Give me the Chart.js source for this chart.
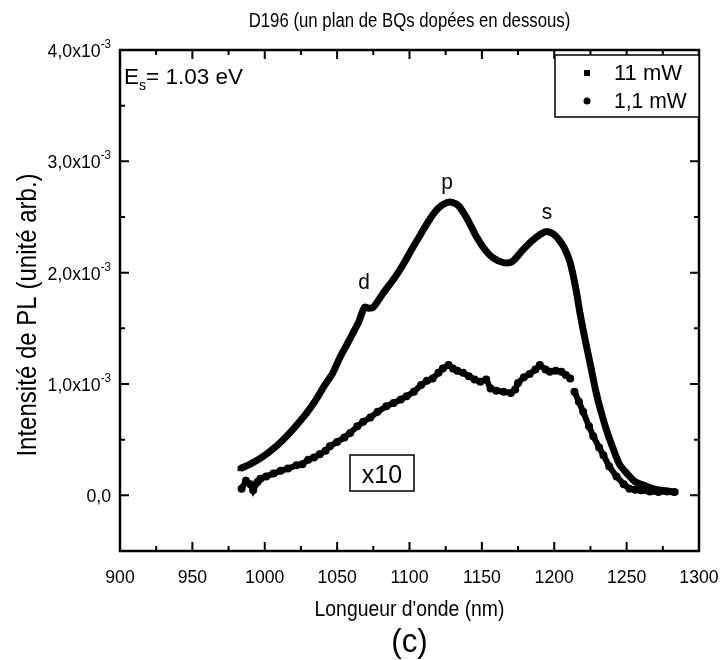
<!DOCTYPE html>
<html>
<head>
<meta charset="utf-8">
<script src="https://cdn.jsdelivr.net/npm/chart.js@4.4.1/dist/chart.umd.min.js"></script>
<style>
  body { margin: 0; background: #fff; }
  #c { display: block; }
</style>
</head>
<body>
<canvas id="c" width="723" height="660"></canvas>
<script>
// wavelength (nm) / PL intensity
const wl11 = [983, 990, 999, 1007, 1015, 1022, 1029, 1035, 1041, 1047, 1052, 1057, 1061, 1065, 1069, 1072, 1075,
  1082, 1089, 1095, 1102, 1108, 1114, 1120, 1126, 1130, 1134, 1140, 1146, 1152, 1158, 1165, 1171, 1178, 1185,
  1191, 1195, 1199, 1203, 1207, 1211, 1215, 1218, 1221, 1225, 1229, 1233, 1237, 1241, 1245, 1250, 1256, 1262,
  1268, 1274, 1280, 1284];
const pl11 = [0.24e-3, 0.28e-3, 0.35e-3, 0.43e-3, 0.53e-3, 0.63e-3, 0.74e-3, 0.85e-3, 0.98e-3, 1.10e-3, 1.24e-3,
  1.36e-3, 1.46e-3, 1.56e-3, 1.69e-3, 1.68e-3, 1.69e-3, 1.82e-3, 1.94e-3, 2.06e-3, 2.22e-3, 2.35e-3, 2.48e-3,
  2.58e-3, 2.63e-3, 2.63e-3, 2.60e-3, 2.48e-3, 2.33e-3, 2.21e-3, 2.13e-3, 2.09e-3, 2.10e-3, 2.20e-3, 2.29e-3,
  2.35e-3, 2.37e-3, 2.35e-3, 2.30e-3, 2.22e-3, 2.09e-3, 1.85e-3, 1.62e-3, 1.42e-3, 1.17e-3, 0.92e-3, 0.72e-3,
  0.55e-3, 0.41e-3, 0.28e-3, 0.20e-3, 0.12e-3, 0.09e-3, 0.06e-3, 0.045e-3, 0.035e-3, 0.03e-3];

// 1,1 mW spectrum (already x10 in the figure); null = small gap near 1212 nm
const wl1 = [984, 987, 990, 992, 995, 997, 1001, 1006, 1011, 1016, 1022, 1026, 1030, 1034, 1038, 1042, 1045, 1050,
  1055, 1059, 1064, 1068, 1073, 1078, 1084, 1089, 1094, 1098, 1103, 1108, 1112, 1116, 1120, 1123, 1127, 1130,
  1133, 1137, 1141, 1145, 1149, 1153, 1156, 1160, 1165, 1170, 1173, 1175, 1179, 1183, 1187, 1190, 1194, 1197,
  1201, 1205, 1208, 1211, 1212.5, 1214, 1217, 1220, 1224, 1227, 1231, 1234, 1238, 1243, 1248, 1252, 1256, 1260,
  1266, 1272, 1278, 1283];
const pl1 = [0.06e-3, 0.13e-3, 0.10e-3, 0.045e-3, 0.12e-3, 0.15e-3, 0.17e-3, 0.195e-3, 0.22e-3, 0.24e-3, 0.27e-3,
  0.28e-3, 0.32e-3, 0.34e-3, 0.37e-3, 0.40e-3, 0.44e-3, 0.48e-3, 0.52e-3, 0.56e-3, 0.62e-3, 0.66e-3, 0.70e-3,
  0.75e-3, 0.80e-3, 0.83e-3, 0.86e-3, 0.89e-3, 0.93e-3, 0.99e-3, 1.03e-3, 1.05e-3, 1.10e-3, 1.14e-3, 1.17e-3,
  1.14e-3, 1.12e-3, 1.10e-3, 1.07e-3, 1.04e-3, 1.02e-3, 1.04e-3, 0.96e-3, 0.94e-3, 0.93e-3, 0.92e-3, 0.95e-3,
  1.01e-3, 1.06e-3, 1.09e-3, 1.13e-3, 1.17e-3, 1.13e-3, 1.11e-3, 1.12e-3, 1.11e-3, 1.08e-3, 1.05e-3, null,
  0.93e-3, 0.84e-3, 0.75e-3, 0.62e-3, 0.53e-3, 0.43e-3, 0.36e-3, 0.26e-3, 0.17e-3, 0.10e-3, 0.06e-3, 0.05e-3,
  0.045e-3, 0.035e-3, 0.03e-3, 0.035e-3, 0.03e-3];

const seriesNames = ['11 mW', '1,1 mW'];

const xMajor = [900, 950, 1000, 1050, 1100, 1150, 1200, 1250, 1300];
const xMinor = [925, 975, 1025, 1075, 1125, 1175, 1225, 1275];
const yMajor = [0, 1e-3, 2e-3, 3e-3, 4e-3];
const yMinor = [0.5e-3, 1.5e-3, 2.5e-3, 3.5e-3];
const yMantissa = ['0,0', '1,0', '2,0', '3,0', '4,0'];

const FONT = 'Arial, "Liberation Sans", Helvetica, sans-serif';

// the original uses a narrow sans, so text is squeezed horizontally
function txt(ctx, s, x, y, size, align, sx) {
  ctx.save();
  ctx.translate(x, y);
  ctx.scale(sx, 1);
  ctx.font = size + 'px ' + FONT;
  ctx.textAlign = align;
  ctx.textBaseline = 'alphabetic';
  ctx.fillText(s, 0, 0);
  ctx.restore();
}
function width(ctx, s, size, sx) {
  ctx.font = size + 'px ' + FONT;
  return ctx.measureText(s).width * sx;
}

const SQ = 0.93;

const frameAndText = {
  id: 'frameAndText',
  afterDatasetsDraw(chart) {
    const ctx = chart.ctx;
    const a = chart.chartArea;
    const xs = chart.scales.x, ys = chart.scales.y;
    ctx.save();
    ctx.strokeStyle = '#000';
    ctx.fillStyle = '#000';

    // frame
    ctx.lineWidth = 2.5;
    ctx.strokeRect(a.left, a.top, a.right - a.left, a.bottom - a.top);

    // inward ticks on all four sides
    ctx.lineWidth = 2;
    ctx.beginPath();
    const xt = (v, len) => {
      const p = xs.getPixelForValue(v);
      ctx.moveTo(p, a.bottom); ctx.lineTo(p, a.bottom - len);
      ctx.moveTo(p, a.top); ctx.lineTo(p, a.top + len);
    };
    const yt = (v, len) => {
      const p = ys.getPixelForValue(v);
      ctx.moveTo(a.left, p); ctx.lineTo(a.left + len, p);
      ctx.moveTo(a.right, p); ctx.lineTo(a.right - len, p);
    };
    xMajor.forEach(v => xt(v, 9));
    xMinor.forEach(v => xt(v, 5));
    yMajor.forEach(v => yt(v, 9));
    yMinor.forEach(v => yt(v, 5));
    ctx.stroke();

    // x tick labels
    xMajor.forEach(v => txt(ctx, String(v), xs.getPixelForValue(v), a.bottom + 32, 19, 'center', SQ));

    // y tick labels with x10^-3
    yMajor.forEach((v, i) => {
      const p = ys.getPixelForValue(v);
      const r = a.left - 9;
      if (v === 0) {
        txt(ctx, yMantissa[i], r, p + 7, 19, 'right', SQ);
      } else {
        const supW = width(ctx, '-3', 12.5, SQ);
        txt(ctx, '-3', r, p - 2, 12.5, 'right', SQ);
        txt(ctx, yMantissa[i] + 'x10', r - supW, p + 7, 19, 'right', SQ);
      }
    });

    // title and axis titles
    const cx = (a.left + a.right) / 2;
    txt(ctx, 'D196 (un plan de BQs dopées en dessous)', cx, 27, 19.5, 'center', 0.86);
    txt(ctx, "Longueur d'onde (nm)", cx, 616, 22.5, 'center', 0.86);
    txt(ctx, '(c)', cx, 652, 33, 'center', 0.95);
    ctx.save();
    ctx.translate(36, 315);
    ctx.rotate(-Math.PI / 2);
    txt(ctx, 'Intensité de PL (unité arb.)', 0, 0, 27, 'center', 0.89);
    ctx.restore();

    // E_s annotation
    const ex = a.left + 4;
    txt(ctx, 'E', ex, 84, 22.5, 'left', 1);
    const eW = width(ctx, 'E', 22.5, 1);
    txt(ctx, 's', ex + eW, 90, 14, 'left', 1);
    const sW = width(ctx, 's', 14, 1);
    txt(ctx, '= 1.03 eV', ex + eW + sW, 84, 22.5, 'left', 1);

    // peak labels
    txt(ctx, 'd', 364, 289, 22, 'center', 0.95);
    txt(ctx, 'p', 447, 189, 22, 'center', 0.95);
    txt(ctx, 's', 547, 219, 22, 'center', 0.95);

    // x10 box
    ctx.lineWidth = 1.5;
    ctx.fillStyle = '#fff';
    ctx.fillRect(350, 455, 64, 36);
    ctx.strokeRect(350, 455, 64, 36);
    ctx.fillStyle = '#000';
    txt(ctx, 'x10', 382, 483, 25, 'center', 1);

    // legend
    ctx.fillStyle = '#fff';
    ctx.fillRect(555, 55, a.right - 555, 62);
    ctx.strokeRect(555, 55, a.right - 555, 62);
    ctx.fillStyle = '#000';
    ctx.fillRect(584, 70, 6, 6);
    ctx.beginPath();
    ctx.arc(587, 101, 3.5, 0, Math.PI * 2);
    ctx.fill();
    txt(ctx, seriesNames[0], 614, 80, 22, 'left', 1);
    txt(ctx, seriesNames[1], 614, 108, 22, 'left', 0.96);

    ctx.restore();
  }
};

new Chart(document.getElementById('c'), {
  type: 'scatter',
  data: {
    datasets: [
      {
        label: seriesNames[0],
        data: wl11.map((x, i) => ({ x: x, y: pl11[i] })),
        showLine: true,
        borderColor: '#000',
        backgroundColor: '#000',
        borderWidth: 7,
        tension: 0.3,
        pointStyle: 'rect',
        pointRadius: 3.6,
        pointBorderWidth: 0
      },
      {
        label: seriesNames[1],
        data: wl1.map((x, i) => ({ x: x, y: pl1[i] })),
        showLine: true,
        spanGaps: false,
        borderColor: '#000',
        backgroundColor: '#000',
        borderWidth: 6,
        tension: 0,
        pointStyle: 'circle',
        pointRadius: 4,
        pointBorderWidth: 0
      }
    ]
  },
  options: {
    responsive: false,
    animation: false,
    devicePixelRatio: 1,
    layout: { padding: { left: 120, right: 24, top: 50, bottom: 109 } },
    plugins: { legend: { display: false }, tooltip: { enabled: false } },
    scales: {
      x: { type: 'linear', min: 900, max: 1300, display: false },
      y: { type: 'linear', min: -0.5e-3, max: 4.0e-3, display: false }
    }
  },
  plugins: [frameAndText]
});
</script>
</body>
</html>
